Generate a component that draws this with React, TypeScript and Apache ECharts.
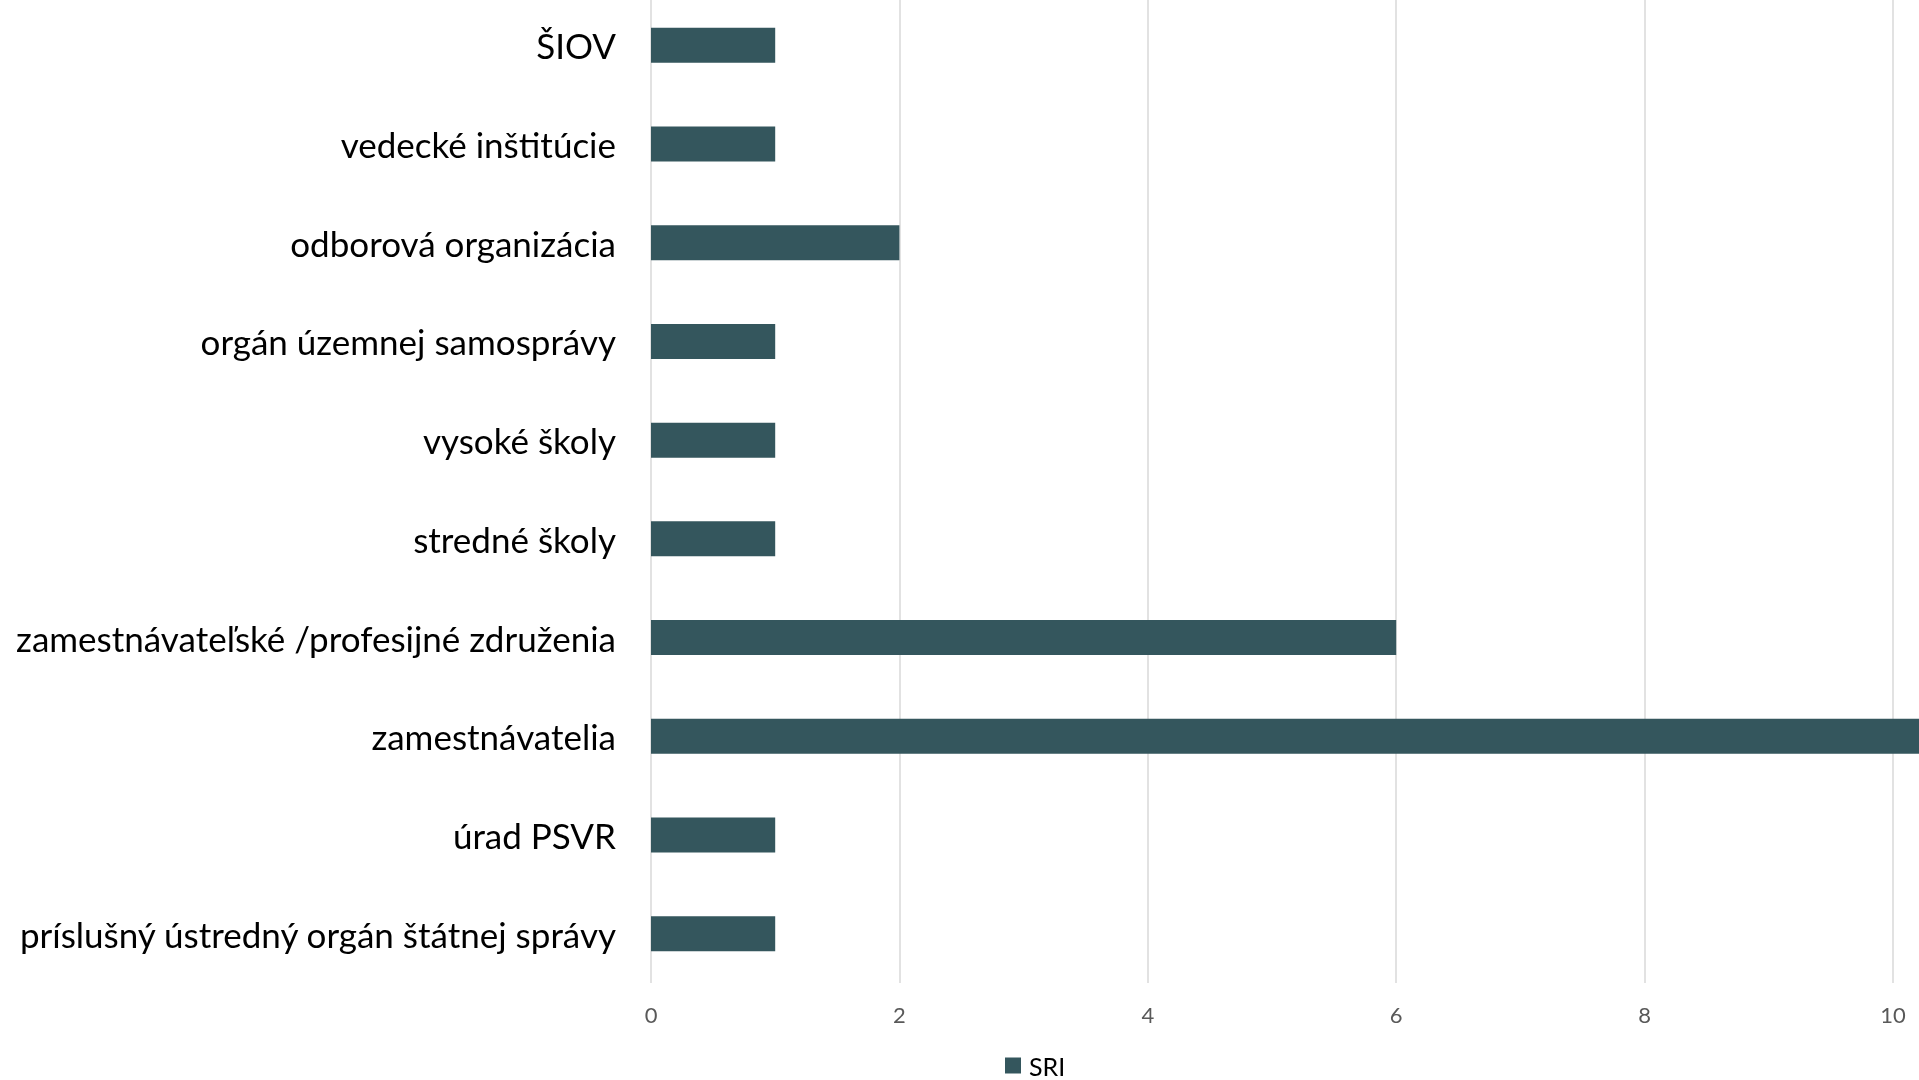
import React, { useEffect, useRef } from "react";
import * as echarts from "echarts";

const categories = [
  "ŠIOV",
  "vedecké inštitúcie",
  "odborová organizácia",
  "orgán územnej samosprávy",
  "vysoké školy",
  "stredné školy",
  "zamestnávateľské /profesijné združenia",
  "zamestnávatelia",
  "úrad PSVR",
  "príslušný ústredný orgán štátnej správy",
];
const sriValues = [1, 1, 2, 1, 1, 1, 6, 11, 1, 1];
const seriesName = "SRI";

export default function App() {
  const ref = useRef<HTMLDivElement>(null);
  useEffect(() => {
    if (!ref.current) return;
    const chart = echarts.init(ref.current, null, { renderer: "svg" });
    chart.setOption({
      animation: false,
      textStyle: { fontFamily: "Lato" },
      grid: { left: 651, right: 26, top: 6, bottom: 97, containLabel: false },
      legend: {
        data: [seriesName],
        top: 1063,
        left: 1005,
        itemWidth: 16,
        itemHeight: 16,
        itemGap: 6,
        padding: 0,
        textStyle: { fontSize: 25, color: "#000", fontFamily: "Lato", padding: [0, 0, 0, 3] },
        icon: "rect",
      },
      xAxis: {
        type: "value",
        min: 0,
        max: 10,
        interval: 2,
        axisLine: { show: false },
        axisTick: { show: false },
        splitLine: { show: true, lineStyle: { color: "#d9d9d9", width: 1.5 } },
        axisLabel: { fontSize: 22, color: "#595959", margin: 20, fontFamily: "Lato" },
      },
      yAxis: {
        type: "category",
        data: categories,
        inverse: true,
        axisLine: { show: false },
        axisTick: { show: false },
        axisLabel: { fontSize: 35, color: "#000", margin: 35, fontFamily: "Lato" },
      },
      series: [
        {
          name: seriesName,
          type: "bar",
          data: sriValues,
          barWidth: 35,
          clip: false,
          itemStyle: { color: "#34565d" },
        },
      ],
    });
    return () => chart.dispose();
  }, []);
  return (
    <div
      ref={ref}
      style={{ position: "fixed", left: 0, top: -10, width: 1919, height: 1090 }}
    />
  );
}
